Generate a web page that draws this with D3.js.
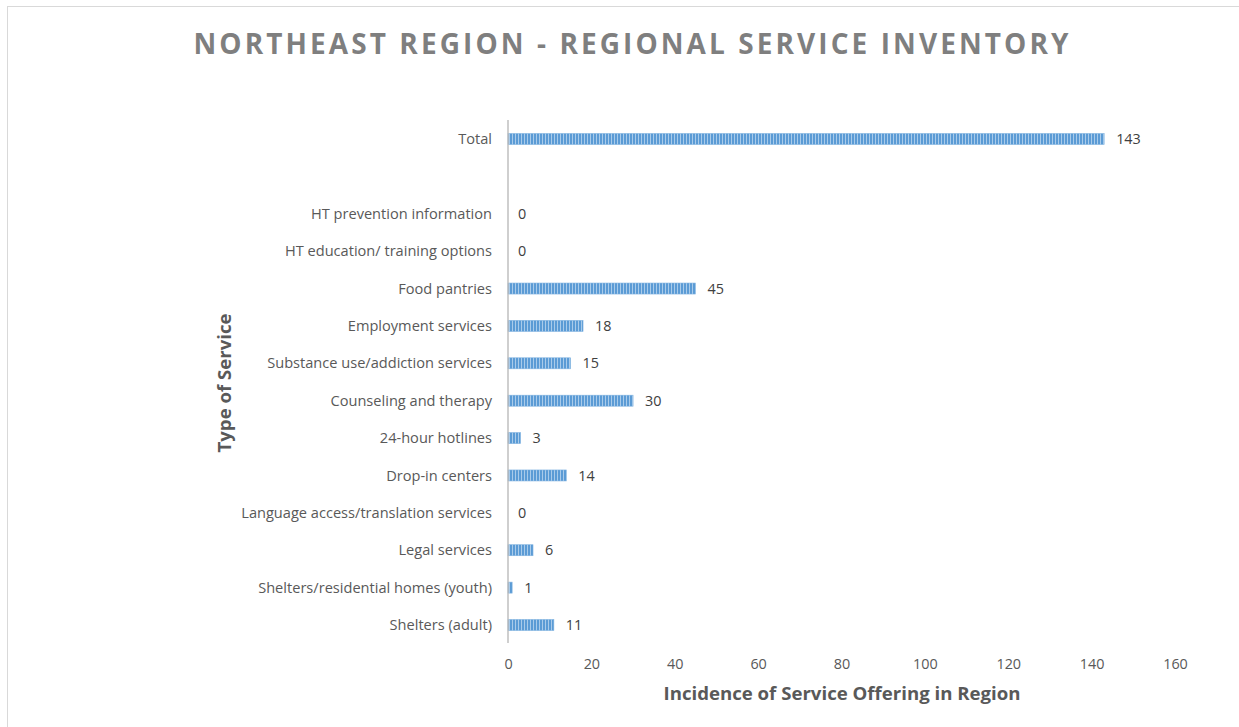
<!DOCTYPE html>
<html><head><meta charset="utf-8">
<script src="https://cdn.jsdelivr.net/npm/d3@7"></script>
<style>body{margin:0;background:#fff;}svg{display:block;font-family:"Open Sans",Lato,sans-serif;}</style>
</head><body><svg id="c" width="1239" height="727"></svg>
<script>
const categories = ["Total","","HT prevention information","HT education/ training options","Food pantries","Employment services","Substance use/addiction services","Counseling and therapy","24-hour hotlines","Drop-in centers","Language access/translation services","Legal services","Shelters/residential homes (youth)","Shelters (adult)"];
const values = [143,null,0,0,45,18,15,30,3,14,0,6,1,11];
const xTicks = [0,20,40,60,80,100,120,140,160];
const title = "NORTHEAST REGION - REGIONAL SERVICE INVENTORY";
const xTitle = "Incidence of Service Offering in Region";
const yTitle = "Type of Service";

const FONT = "'Open Sans',Lato,sans-serif";
const svg = d3.select("#c");
svg.append("rect").attr("x",7.5).attr("y",6.5).attr("width",1240).attr("height",730).attr("fill","#fff").attr("stroke","#d9d9d9");

const defs = svg.append("defs");
const pat = defs.append("pattern").attr("id","stripe").attr("patternUnits","userSpaceOnUse").attr("width",3).attr("height",10);
pat.append("rect").attr("width",3).attr("height",10).attr("fill","#5b9bd5");
pat.append("rect").attr("x",2).attr("width",1).attr("height",10).attr("fill","#a9cbea");

const x = d3.scaleLinear().domain([0,160]).range([508,1175]);
const y = d3.scalePoint().domain(categories.map((d,i)=>i)).range([139,625]);

svg.append("text").attr("x",631).attr("y",54).attr("text-anchor","middle").attr("fill","#7f7f7f")
  .attr("font-size",28).attr("font-weight","bold").attr("textLength",875).attr("lengthAdjust","spacing").text(title);

// category labels
svg.append("g").selectAll("text").data(categories).join("text")
  .attr("x",492).attr("y",(d,i)=>y(i)).attr("dy","0.35em")
  .attr("text-anchor","end").attr("fill","#595959").attr("font-size",14.6).text(d=>d);

// bars
svg.append("g").selectAll("rect").data(values.map((v,i)=>({v,i})).filter(d=>d.v!==null && d.v>0)).join("rect")
  .attr("x",x(0)).attr("y",d=>y(d.i)-5.5).attr("height",11)
  .attr("width",d=>x(d.v)-x(0)).attr("fill","url(#stripe)").attr("stroke","#7fb2e0").attr("stroke-width",0.6);

// value labels
svg.append("g").selectAll("text").data(values.map((v,i)=>({v,i})).filter(d=>d.v!==null)).join("text")
  .attr("x",d=>x(d.v)+(d.v>0?12:10)).attr("y",d=>y(d.i)).attr("dy","0.35em")
  .attr("fill","#404040").attr("font-size",14.4).text(d=>d.v);

// axis line
svg.append("line").attr("x1",x(0)).attr("x2",x(0)).attr("y1",120).attr("y2",643).attr("stroke","#bfbfbf").attr("stroke-width",1.5);

// x tick labels
const xAxis = d3.axisBottom(x).tickValues(xTicks).tickSize(0).tickPadding(0);
const gx = svg.append("g").attr("transform","translate(0,659)").call(xAxis);
gx.select(".domain").remove();
gx.selectAll("text").attr("font-size",14.4).attr("fill","#595959").attr("font-family",FONT).attr("dy","0.72em");

svg.append("text").attr("x",842).attr("y",700).attr("text-anchor","middle").attr("fill","#595959")
  .attr("font-size",18).attr("font-weight","bold").attr("textLength",357).attr("lengthAdjust","spacingAndGlyphs").text(xTitle);
svg.append("text").attr("transform","translate(231,383) rotate(-90)").attr("text-anchor","middle").attr("fill","#595959")
  .attr("font-size",18).attr("font-weight","bold").attr("textLength",139).attr("lengthAdjust","spacingAndGlyphs").text(yTitle);
</script></body></html>
